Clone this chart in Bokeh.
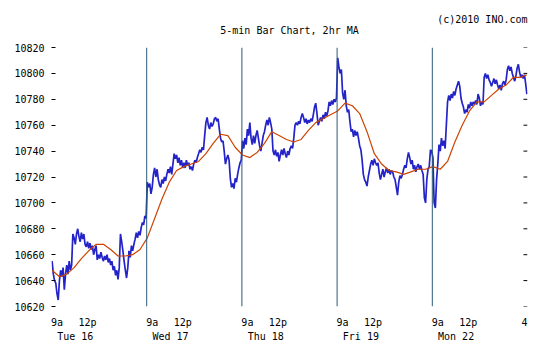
import numpy as np
from bokeh.plotting import figure
from bokeh.models import Range1d, LinearAxis, FixedTicker, Span, Title
from bokeh.embed import file_html
from bokeh.resources import INLINE

# ---------------- data ----------------
days = ["Tue 16", "Wed 17", "Thu 18", "Fri 19", "Mon 22"]
bars_per_day = 78  # 5-min bars, 9:30 - 16:00

tue = [10655, 10645, 10640, 10638, 10630, 10625, 10640, 10648, 10643, 10650,
       10633, 10645, 10652, 10645, 10655, 10648, 10652, 10676, 10673, 10668,
       10676, 10680, 10674, 10670, 10677, 10672, 10676, 10668, 10666, 10670,
       10665, 10669, 10664, 10667, 10660, 10664, 10667, 10656, 10660, 10657,
       10662, 10658, 10655, 10659, 10656, 10660, 10654, 10657, 10652, 10655,
       10648, 10651, 10644, 10648, 10641, 10650, 10676, 10670, 10663, 10655,
       10648, 10642, 10650, 10663, 10658, 10667, 10663, 10668, 10672, 10677,
       10673, 10678, 10675, 10681, 10685, 10683, 10690, 10688]
wed = [10716, 10712, 10715, 10707, 10712, 10722, 10727, 10720, 10726, 10718,
       10714, 10712, 10718, 10715, 10720, 10717, 10722, 10726, 10723, 10728,
       10722, 10730, 10738, 10734, 10737, 10731, 10735, 10729, 10733, 10727,
       10731, 10727, 10733, 10729, 10731, 10726, 10728, 10725, 10730, 10733,
       10731, 10735, 10738, 10741, 10739, 10743, 10741, 10752, 10762, 10766,
       10760, 10757, 10762, 10759, 10761, 10765, 10766, 10763, 10765, 10757,
       10750, 10747, 10748, 10740, 10730, 10734, 10737, 10733, 10719, 10712,
       10715, 10711, 10719, 10716, 10722, 10727, 10731, 10733]
thu = [10748, 10742, 10750, 10745, 10757, 10752, 10762, 10750, 10745, 10752,
       10746, 10752, 10756, 10750, 10744, 10740, 10746, 10752, 10755, 10760,
       10764, 10760, 10766, 10762, 10757, 10740, 10737, 10741, 10736, 10739,
       10732, 10737, 10741, 10737, 10742, 10738, 10735, 10740, 10737, 10742,
       10744, 10742, 10750, 10760, 10762, 10760, 10763, 10761, 10766, 10769,
       10766, 10762, 10765, 10761, 10764, 10762, 10765, 10763, 10768, 10774,
       10777, 10769, 10760, 10763, 10766, 10763, 10768, 10765, 10770, 10767,
       10771, 10778, 10775, 10779, 10776, 10780, 10778, 10781]
fri = [10812, 10805, 10800, 10803, 10785, 10780, 10787, 10775, 10770, 10772,
       10763, 10755, 10757, 10751, 10756, 10752, 10755, 10750, 10744, 10741,
       10733, 10722, 10718, 10716, 10713, 10720, 10725, 10730, 10733, 10729,
       10734, 10731, 10729, 10731, 10723, 10718, 10722, 10726, 10720, 10724,
       10727, 10723, 10726, 10722, 10725, 10724, 10720, 10718, 10712, 10706,
       10716, 10721, 10719, 10722, 10726, 10729, 10727, 10734, 10739, 10735,
       10730, 10733, 10726, 10729, 10724, 10728, 10730, 10726, 10729, 10725,
       10722, 10704, 10700, 10718, 10726, 10728, 10741, 10740]
mon = [10735, 10700, 10696, 10718, 10730, 10745, 10740, 10750, 10744, 10748,
       10742, 10760, 10778, 10783, 10779, 10784, 10781, 10786, 10783, 10788,
       10791, 10794, 10790, 10781, 10777, 10774, 10769, 10772, 10770, 10776,
       10773, 10778, 10775, 10778, 10776, 10779, 10776, 10784, 10781, 10775,
       10778, 10776, 10797, 10800, 10796, 10799, 10795, 10793, 10790, 10793,
       10796, 10792, 10795, 10791, 10788, 10791, 10787, 10792, 10794, 10791,
       10795, 10803, 10806, 10802, 10805, 10800, 10797, 10794, 10798, 10804,
       10807, 10801, 10797, 10799, 10796, 10799, 10792, 10784]

# 2hr moving average, read every 6 bars (plus the last bar)
ma_step = 6
ma_tue = [10648, 10643, 10645, 10650, 10657, 10663, 10668, 10668, 10664, 10659, 10659, 10660, 10664]
ma_wed = [10673, 10688, 10703, 10716, 10725, 10728, 10730, 10732, 10738, 10746, 10753, 10752, 10743]
ma_thu = [10737, 10735, 10739, 10746, 10755, 10752, 10749, 10747, 10749, 10756, 10762, 10765, 10768]
ma_fri = [10771, 10777, 10775, 10769, 10755, 10738, 10730, 10725, 10724, 10722, 10724, 10726, 10726]
ma_mon = [10728, 10726, 10732, 10747, 10760, 10771, 10778, 10778, 10783, 10788, 10791, 10797, 10797]
ma_last = 10799

y_ticks = list(range(10620, 10821, 20))
time_labels = {4: "9a", 29: "12p"}   # bar offset within a day -> label
close_label = (75, "4")
day_label_offset = 19

# ---------------- derived ----------------
close = tue + wed + thu + fri + mon
n = len(close)
xs = np.arange(n)
ma_vals = ma_tue + ma_wed + ma_thu + ma_fri + ma_mon + [ma_last]
ma_x = list(range(0, n, ma_step)) + [n - 1]

FONT = "DejaVu Sans Mono"
FS = "10px"
W, H = 542, 354
BL, BR, BT, BB = 51, 15, 47, 48
Y0, Y1 = 10620, 10820
X0, X1 = -0.5, n - 0.5

p = figure(width=W, height=H, x_range=Range1d(X0, X1),
           y_range=Range1d(Y0, Y1), output_backend="svg",
           toolbar_location=None, x_axis_location=None, y_axis_location=None,
           min_border_left=BL, min_border_right=BR, min_border_top=BT,
           min_border_bottom=BB)
p.outline_line_color = None
p.background_fill_color = "white"
p.border_fill_color = "white"
p.xgrid.visible = False
p.ygrid.visible = False

# titles: main title next to the frame, copyright line above it
main_title = Title(text="5-min Bar Chart, 2hr MA", align="center", text_font=FONT,
                   text_font_size=FS, text_font_style="normal", text_color="black",
                   standoff=24)
p.add_layout(main_title, "above")
p.title.text = "(c)2010 INO.com"
p.title.align = "right"
p.title.text_font = FONT
p.title.text_font_size = FS
p.title.text_font_style = "normal"
p.title.text_color = "black"
p.title.standoff = -28

# day separators
for d in range(1, len(days)):
    p.add_layout(Span(location=d * bars_per_day - 0.5, dimension="height",
                      line_color="#2b5a78", line_width=1))

# price and MA
p.line(xs, close, line_color="#2323c8", line_width=1.7)
p.line(ma_x, ma_vals, line_color="#cc4400", line_width=1.2)

# left y axis
p.add_layout(LinearAxis(ticker=FixedTicker(ticks=y_ticks), axis_line_color=None,
                        major_tick_in=4, major_tick_out=0, major_tick_line_color="black",
                        minor_tick_line_color=None, major_label_text_font=FONT,
                        major_label_text_font_size=FS, major_label_text_color="black",
                        major_label_standoff=7), "left")

# right-hand tick marks (no labels), 4 px long inside the frame
px_per_bar = (W - BL - BR) / (X1 - X0)
tick_len = 4 / px_per_bar
p.segment(x0=[X1 - tick_len] * len(y_ticks), x1=[X1] * len(y_ticks),
          y0=y_ticks, y1=y_ticks, line_color="black", line_width=1)

# x axes: time row and day row
tticks, tover = [], {}
for d in range(len(days)):
    for off, lab in time_labels.items():
        t = d * bars_per_day + off
        tticks.append(t)
        tover[t] = lab
t = (len(days) - 1) * bars_per_day + close_label[0]
tticks.append(t)
tover[t] = close_label[1]

dticks, dover = [], {}
for d, name in enumerate(days):
    t = d * bars_per_day + day_label_offset
    dticks.append(t)
    dover[t] = name

def xaxis(ticks, over, standoff):
    return LinearAxis(ticker=FixedTicker(ticks=ticks), major_label_overrides=over,
                      axis_line_color=None, major_tick_line_color=None,
                      major_tick_in=0, major_tick_out=0, minor_tick_line_color=None,
                      major_label_text_font=FONT, major_label_text_font_size=FS,
                      major_label_text_color="black", major_label_standoff=standoff)

p.add_layout(xaxis(tticks, tover, 10), "below")
p.add_layout(xaxis(dticks, dover, 0), "below")

open("out.html", "w").write(file_html(p, INLINE))
